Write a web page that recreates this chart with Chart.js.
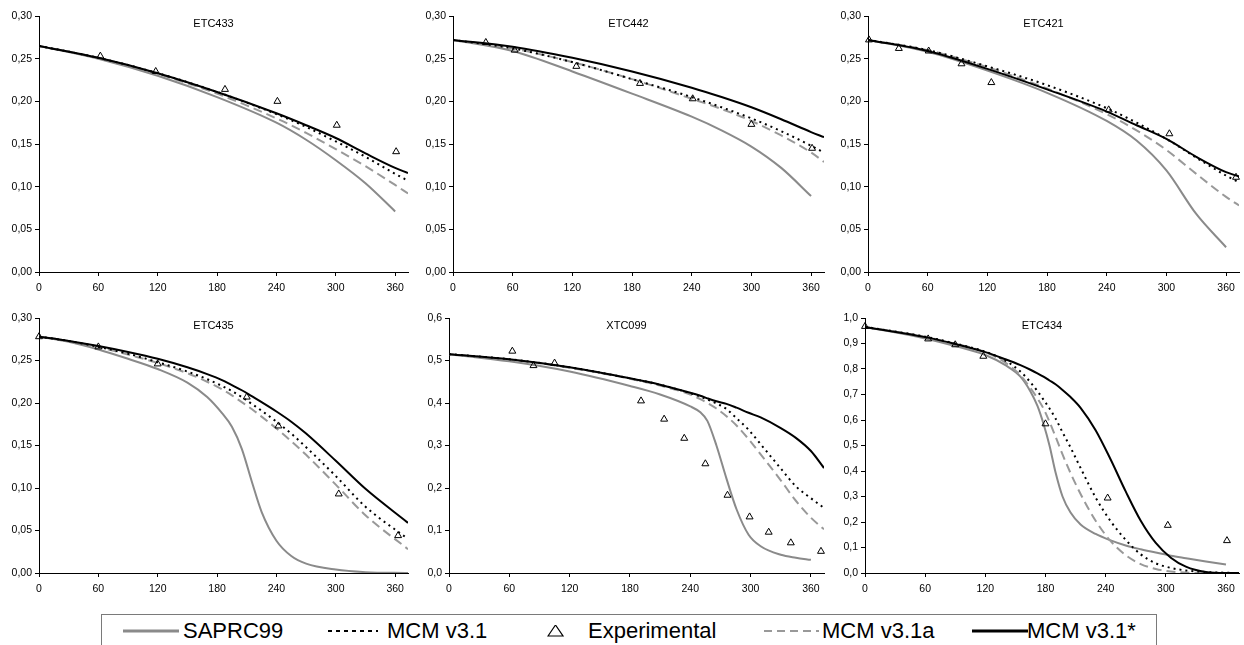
<!DOCTYPE html>
<html>
<head>
<meta charset="utf-8">
<script src="https://cdn.jsdelivr.net/npm/chart.js@4/dist/chart.umd.min.js"></script>
<style>
  body { margin: 0; background: #fff; width: 1244px; height: 645px; overflow: hidden; position: relative; font-family: "Liberation Sans", Arial, sans-serif; }
  canvas { position: absolute; }
  #legend { position: absolute; left: 101px; top: 614px; width: 1056px; height: 45px; border: 1px solid #7a7a7a; box-sizing: border-box; }
  .lg-text { position: absolute; top: 5px; font-size: 22px; line-height: 22px; color: #000; white-space: nowrap; }
  .lg-mark { position: absolute; top: 10px; }
</style>
</head>
<body>
<canvas id="c433"></canvas>
<canvas id="c442"></canvas>
<canvas id="c421"></canvas>
<canvas id="c435"></canvas>
<canvas id="c099"></canvas>
<canvas id="c434"></canvas>
<div id="legend"></div>

<script>
// time axis (min)
const xMax = 373;
const seriesNames = ["SAPRC99", "MCM v3.1", "Experimental", "MCM v3.1a", "MCM v3.1*"];

// ETC433
const t433 = [0, 60, 120, 180, 240, 270, 300, 330, 360, 373];
const saprc433 = [0.265, 0.250, 0.230, 0.205, 0.175, 0.155, 0.131, 0.104, 0.071, null];
const mcm433 = [0.265, 0.251, 0.233, 0.211, 0.185, 0.170, 0.153, 0.135, 0.115, 0.107];
const mcmA433 = [0.265, 0.251, 0.232, 0.209, 0.180, 0.163, 0.144, 0.124, 0.102, 0.092];
const mcmS433 = [0.265, 0.251, 0.233, 0.211, 0.186, 0.172, 0.157, 0.139, 0.122, 0.116];
const expT433 = [62, 118, 188, 241, 301, 361];
const exp433 = [0.253, 0.235, 0.214, 0.200, 0.172, 0.141];

// ETC442
const t442 = [0, 60, 120, 180, 240, 270, 300, 330, 360, 373];
const saprc442 = [0.272, 0.259, 0.235, 0.209, 0.182, 0.166, 0.147, 0.122, 0.089, null];
const mcm442 = [0.272, 0.262, 0.246, 0.226, 0.205, 0.193, 0.180, 0.165, 0.148, 0.140];
const mcmA442 = [0.272, 0.262, 0.246, 0.226, 0.203, 0.191, 0.177, 0.160, 0.140, 0.129];
const mcmS442 = [0.272, 0.264, 0.251, 0.235, 0.216, 0.205, 0.193, 0.179, 0.164, 0.158];
const expT442 = [33, 62, 124, 188, 241, 300, 361];
const exp442 = [0.269, 0.260, 0.241, 0.221, 0.203, 0.173, 0.145];

// ETC421
const t421 = [0, 60, 120, 180, 240, 270, 300, 330, 360, 373];
const saprc421 = [0.272, 0.258, 0.236, 0.210, 0.177, 0.154, 0.119, 0.068, 0.029, null];
const mcm421 = [0.272, 0.260, 0.241, 0.219, 0.192, 0.175, 0.156, 0.134, 0.113, 0.105];
const mcmA421 = [0.272, 0.260, 0.240, 0.215, 0.185, 0.166, 0.143, 0.115, 0.088, 0.078];
const mcmS421 = [0.272, 0.259, 0.238, 0.214, 0.188, 0.172, 0.156, 0.135, 0.117, 0.112];
const expT421 = [1, 31, 61, 94, 124, 242, 303, 370];
const exp421 = [0.272, 0.262, 0.259, 0.244, 0.222, 0.190, 0.162, 0.111];

// ETC435
const t435 = [0, 30, 60, 90, 120, 150, 170, 185, 195, 205, 215, 225, 240, 255, 270, 300, 330, 373];
const saprc435 = [0.278, 0.272, 0.263, 0.252, 0.240, 0.224, 0.207, 0.188, 0.172, 0.146, 0.108, 0.072, 0.038, 0.020, 0.011, 0.004, 0.001, 0.000];
const mcm435 = [0.278, 0.273, 0.266, 0.258, 0.248, 0.237, 0.228, 0.220, 0.214, 0.207, 0.199, 0.191, 0.178, 0.164, 0.148, 0.114, 0.078, 0.040];
const mcmA435 = [0.278, 0.273, 0.266, 0.257, 0.247, 0.235, 0.225, 0.216, 0.209, 0.201, 0.193, 0.184, 0.170, 0.155, 0.139, 0.104, 0.068, 0.028];
const mcmS435 = [0.278, 0.273, 0.267, 0.260, 0.252, 0.242, 0.234, 0.227, 0.221, 0.215, 0.208, 0.201, 0.190, 0.178, 0.164, 0.132, 0.099, 0.059];
const expT435 = [0, 60, 120, 210, 242, 303, 363];
const exp435 = [0.278, 0.266, 0.246, 0.207, 0.173, 0.093, 0.044];

// XTC099
const t099 = [0, 60, 120, 180, 210, 240, 250, 257, 266, 276, 286, 298, 310, 330, 345, 360, 373];
const saprc099 = [0.515, 0.498, 0.474, 0.440, 0.420, 0.392, 0.378, 0.358, 0.300, 0.222, 0.150, 0.090, 0.063, 0.043, 0.036, 0.031, null];
const mcm099 = [0.515, 0.503, 0.484, 0.458, 0.443, 0.423, 0.415, 0.408, 0.399, 0.386, 0.364, 0.337, 0.303, 0.246, 0.204, 0.176, 0.153];
const mcmA099 = [0.515, 0.502, 0.483, 0.457, 0.441, 0.420, 0.409, 0.400, 0.387, 0.369, 0.347, 0.315, 0.279, 0.218, 0.170, 0.130, 0.103];
const mcmS099 = [0.515, 0.503, 0.484, 0.458, 0.443, 0.424, 0.417, 0.411, 0.404, 0.398, 0.389, 0.377, 0.366, 0.341, 0.318, 0.287, 0.247];
const expT099 = [63, 84, 105, 191, 214, 234, 255, 277, 299, 318, 340, 370];
const exp099 = [0.522, 0.488, 0.494, 0.405, 0.362, 0.317, 0.257, 0.183, 0.132, 0.096, 0.071, 0.051];

// ETC434
const t434 = [0, 60, 90, 120, 140, 155, 165, 172, 178, 184, 190, 197, 205, 215, 230, 245, 260, 275, 290, 305, 320, 340, 360, 373];
const saprc434 = [0.965, 0.920, 0.890, 0.855, 0.815, 0.770, 0.712, 0.655, 0.585, 0.500, 0.395, 0.300, 0.237, 0.190, 0.153, 0.128, 0.108, 0.093, 0.080, 0.068, 0.058, 0.045, 0.033, null];
const mcm434 = [0.965, 0.927, 0.900, 0.868, 0.833, 0.790, 0.748, 0.713, 0.680, 0.645, 0.606, 0.552, 0.492, 0.412, 0.296, 0.203, 0.130, 0.073, 0.038, 0.020, 0.010, 0.004, 0.001, 0.000];
const mcmA434 = [0.965, 0.926, 0.899, 0.866, 0.825, 0.775, 0.725, 0.685, 0.645, 0.593, 0.535, 0.465, 0.392, 0.310, 0.205, 0.125, 0.070, 0.035, 0.016, 0.006, 0.002, 0.000, 0.000, 0.000];
const mcmS434 = [0.965, 0.925, 0.898, 0.866, 0.838, 0.815, 0.797, 0.783, 0.770, 0.755, 0.740, 0.718, 0.690, 0.648, 0.560, 0.445, 0.320, 0.205, 0.118, 0.060, 0.025, 0.004, 0.000, 0.000];
const expT434 = [0, 63, 90, 118, 180, 242, 302, 361];
const exp434 = [0.967, 0.918, 0.895, 0.850, 0.585, 0.294, 0.187, 0.127];

const FONT = "'Liberation Sans', Arial, sans-serif";

function pts(xs, ys) {
  return xs.map((x, i) => ({ x: x, y: ys[i] })).filter(p => p.y !== null);
}

// small title written inside the plot area
const panelTitle = {
  id: "panelTitle",
  afterDraw(chart, args, opts) {
    const a = chart.chartArea;
    const ctx = chart.ctx;
    ctx.save();
    ctx.font = "11px " + FONT;
    ctx.fillStyle = "#000";
    ctx.textAlign = "center";
    ctx.textBaseline = "middle";
    ctx.fillText(opts.text, (a.left + a.right) / 2 - 10, a.top + 8);
    ctx.restore();
  }
};

function makePanel(id, box, title, t, saprc, mcm, mcmA, mcmS, expT, exp, yMax, yStep, dec) {
  const cv = document.getElementById(id);
  cv.width = box.w; cv.height = box.h;
  cv.style.left = box.l + "px"; cv.style.top = box.t + "px";
  const line = (label, ys, color, dash, order) => ({
    label: label, data: pts(t, ys), borderColor: color, borderWidth: 2,
    borderDash: dash, pointRadius: 0, fill: false,
    cubicInterpolationMode: "monotone", order: order
  });
  new Chart(cv, {
    type: "line",
    data: {
      datasets: [
        line(seriesNames[0], saprc, "#8a8a8a", [], 5),
        line(seriesNames[3], mcmA, "#999999", [9, 5], 4),
        line(seriesNames[1], mcm, "#000000", [2, 4], 3),
        line(seriesNames[4], mcmS, "#000000", [], 2),
        {
          label: seriesNames[2], data: pts(expT, exp), showLine: false,
          pointStyle: "triangle", pointRadius: 4, pointBorderWidth: 1,
          pointBorderColor: "#000", pointBackgroundColor: "rgba(255,255,255,0)",
          clip: false, order: 1
        }
      ]
    },
    options: {
      responsive: false, animation: false, devicePixelRatio: 1,
      layout: { padding: { top: box.pad, left: 0, right: 0, bottom: 0 } },
      plugins: { legend: { display: false }, tooltip: { enabled: false }, panelTitle: { text: title } },
      scales: {
        x: {
          type: "linear", min: 0, max: xMax,
          afterFit: s => { s.height = 30; },
          ticks: { stepSize: 60, includeBounds: false, color: "#000", padding: 6, font: { family: FONT, size: 10.5 } },
          grid: { drawOnChartArea: false, tickLength: 4, color: "#000" },
          border: { color: "#000", width: 1 }
        },
        y: {
          min: 0, max: yMax,
          afterFit: s => { s.width = 38; },
          ticks: { stepSize: yStep, color: "#000", padding: 3, font: { family: FONT, size: 10.5 },
                   callback: v => v.toFixed(dec).replace(".", ",") },
          grid: { drawOnChartArea: false, tickLength: 4, color: "#000" },
          border: { color: "#000", width: 1 }
        }
      }
    },
    plugins: [panelTitle]
  });
}

makePanel("c433", { l: 1, t: 0, w: 412, h: 302, pad: 16 }, "ETC433", t433, saprc433, mcm433, mcmA433, mcmS433, expT433, exp433, 0.30, 0.05, 2);
makePanel("c442", { l: 415, t: 0, w: 414, h: 302, pad: 16 }, "ETC442", t442, saprc442, mcm442, mcmA442, mcmS442, expT442, exp442, 0.30, 0.05, 2);
makePanel("c421", { l: 830, t: 0, w: 414, h: 302, pad: 16 }, "ETC421", t421, saprc421, mcm421, mcmA421, mcmS421, expT421, exp421, 0.30, 0.05, 2);
makePanel("c435", { l: 1, t: 300, w: 412, h: 303, pad: 18 }, "ETC435", t435, saprc435, mcm435, mcmA435, mcmS435, expT435, exp435, 0.30, 0.05, 2);
makePanel("c099", { l: 411, t: 300, w: 418, h: 303, pad: 18 }, "XTC099", t099, saprc099, mcm099, mcmA099, mcmS099, expT099, exp099, 0.6, 0.1, 1);
makePanel("c434", { l: 827, t: 300, w: 417, h: 303, pad: 18 }, "ETC434", t434, saprc434, mcm434, mcmA434, mcmS434, expT434, exp434, 1.0, 0.1, 1);

// shared legend under the panels
const legendItems = [
  { name: seriesNames[0], mark: 21, text: 81, svg: '<line x1="0" y1="6" x2="56" y2="6" stroke="#8a8a8a" stroke-width="3"/>' },
  { name: seriesNames[1], mark: 226, text: 285, svg: '<line x1="0" y1="6" x2="50" y2="6" stroke="#000" stroke-width="2" stroke-dasharray="4 4"/>' },
  { name: seriesNames[2], mark: 445, text: 486, svg: '<polygon points="1,11 8.5,0 16,11" fill="none" stroke="#000" stroke-width="1.2"/>' },
  { name: seriesNames[3], mark: 662, text: 720, svg: '<line x1="0" y1="6" x2="55" y2="6" stroke="#999" stroke-width="2" stroke-dasharray="8 5"/>' },
  { name: seriesNames[4], mark: 870, text: 925, svg: '<line x1="0" y1="6" x2="56" y2="6" stroke="#000" stroke-width="3"/>' }
];
const lg = document.getElementById("legend");
legendItems.forEach(it => {
  const m = document.createElement("div");
  m.className = "lg-mark";
  m.style.left = it.mark + "px";
  m.innerHTML = '<svg width="60" height="14">' + it.svg + '</svg>';
  lg.appendChild(m);
  const s = document.createElement("span");
  s.className = "lg-text";
  s.style.left = it.text + "px";
  s.textContent = it.name;
  lg.appendChild(s);
});
</script>
</body>
</html>
